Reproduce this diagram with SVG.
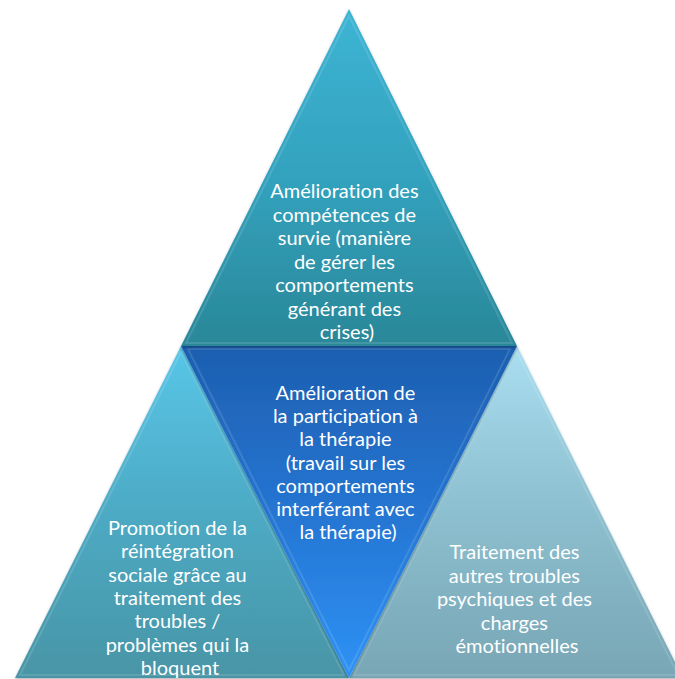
<svg xmlns="http://www.w3.org/2000/svg" width="675" height="679" viewBox="0 0 675 679">
  <defs>
    <linearGradient id="gTop" x1="0" y1="0" x2="0" y2="1">
      <stop offset="0" stop-color="#3db4d4"/>
      <stop offset="0.5" stop-color="#33a2be"/>
      <stop offset="1" stop-color="#2a8798"/>
    </linearGradient>
    <linearGradient id="gMid" x1="0" y1="0" x2="0" y2="1">
      <stop offset="0" stop-color="#1d5fb0"/>
      <stop offset="0.5" stop-color="#2575d2"/>
      <stop offset="1" stop-color="#2e92f5"/>
    </linearGradient>
    <linearGradient id="gLeft" x1="0" y1="0" x2="0" y2="1">
      <stop offset="0" stop-color="#58c6e8"/>
      <stop offset="0.5" stop-color="#4daac4"/>
      <stop offset="1" stop-color="#4895a6"/>
    </linearGradient>
    <linearGradient id="gRight" x1="0" y1="0" x2="0" y2="1">
      <stop offset="0" stop-color="#a9def0"/>
      <stop offset="0.5" stop-color="#8cbfcf"/>
      <stop offset="1" stop-color="#78a6b5"/>
    </linearGradient>
    <filter id="sh" x="-10%" y="-10%" width="120%" height="120%">
      <feDropShadow dx="0" dy="1.5" stdDeviation="1.5" flood-color="#000" flood-opacity="0.3"/>
    </filter>
  </defs>
  <style>
    .tri { filter: url(#sh); }
    .hl { fill: none; stroke: #ffffff; stroke-opacity: 0.12; stroke-width: 2; }
    .lbl { font-family: Lato, "Open Sans", "Liberation Sans", sans-serif; font-size: 20px; fill: #ffffff; text-anchor: middle; font-variant-ligatures: none; }
  </style>
  <rect width="675" height="679" fill="#ffffff"/>

  <g id="node-left">
    <polygon class="tri" points="181,346 15,678 349,678" fill="url(#gLeft)"/>
    <polygon class="hl" points="181,352 20,675 344,675"/>
    <text class="lbl" x="180" y="535">
      <tspan x="180" dy="0">Promotion de la</tspan>
      <tspan x="180" dy="23.3">réintégration</tspan>
      <tspan x="180" dy="23.3">sociale grâce au</tspan>
      <tspan x="180" dy="23.3">traitement des</tspan>
      <tspan x="180" dy="23.3">troubles /</tspan>
      <tspan x="180" dy="23.3">problèmes qui la</tspan>
      <tspan x="180" dy="23.3">bloquent</tspan>
    </text>
  </g>

  <g id="node-right">
    <polygon class="tri" points="517,346 349,678 683,678" fill="url(#gRight)"/>
    <polygon class="hl" points="517,352 354,675 678,675"/>
    <text class="lbl" x="517" y="559">
      <tspan x="517" dy="0">Traitement des</tspan>
      <tspan x="517" dy="23.5">autres troubles</tspan>
      <tspan x="517" dy="23.5">psychiques et des</tspan>
      <tspan x="517" dy="23.5">charges</tspan>
      <tspan x="517" dy="23.5">émotionnelles</tspan>
    </text>
  </g>

  <g id="node-middle">
    <polygon class="tri" points="181,346 517,346 349,678" fill="url(#gMid)"/>
    <polygon class="hl" points="188,349 510,349 349,670"/>
    <text class="lbl" x="348" y="400">
      <tspan x="348" dy="0">Amélioration de</tspan>
      <tspan x="348" dy="23.2">la participation à</tspan>
      <tspan x="348" dy="23.2">la thérapie</tspan>
      <tspan x="348" dy="23.2">(travail sur les</tspan>
      <tspan x="348" dy="23.2">comportements</tspan>
      <tspan x="348" dy="23.2">interférant avec</tspan>
      <tspan x="348" dy="23.2">la thérapie)</tspan>
    </text>
  </g>

  <g id="node-top">
    <polygon class="tri" points="349,9 181,346 517,346" fill="url(#gTop)"/>
    <polygon class="hl" points="349,16 186,343 512,343"/>
    <text class="lbl" x="347" y="198">
      <tspan x="347" dy="0">Amélioration des</tspan>
      <tspan x="347" dy="23.5">compétences de</tspan>
      <tspan x="347" dy="23.5">survie (manière</tspan>
      <tspan x="347" dy="23.5">de gérer les</tspan>
      <tspan x="347" dy="23.5">comportements</tspan>
      <tspan x="347" dy="23.5">générant des</tspan>
      <tspan x="347" dy="23.5">crises)</tspan>
    </text>
  </g>
</svg>
